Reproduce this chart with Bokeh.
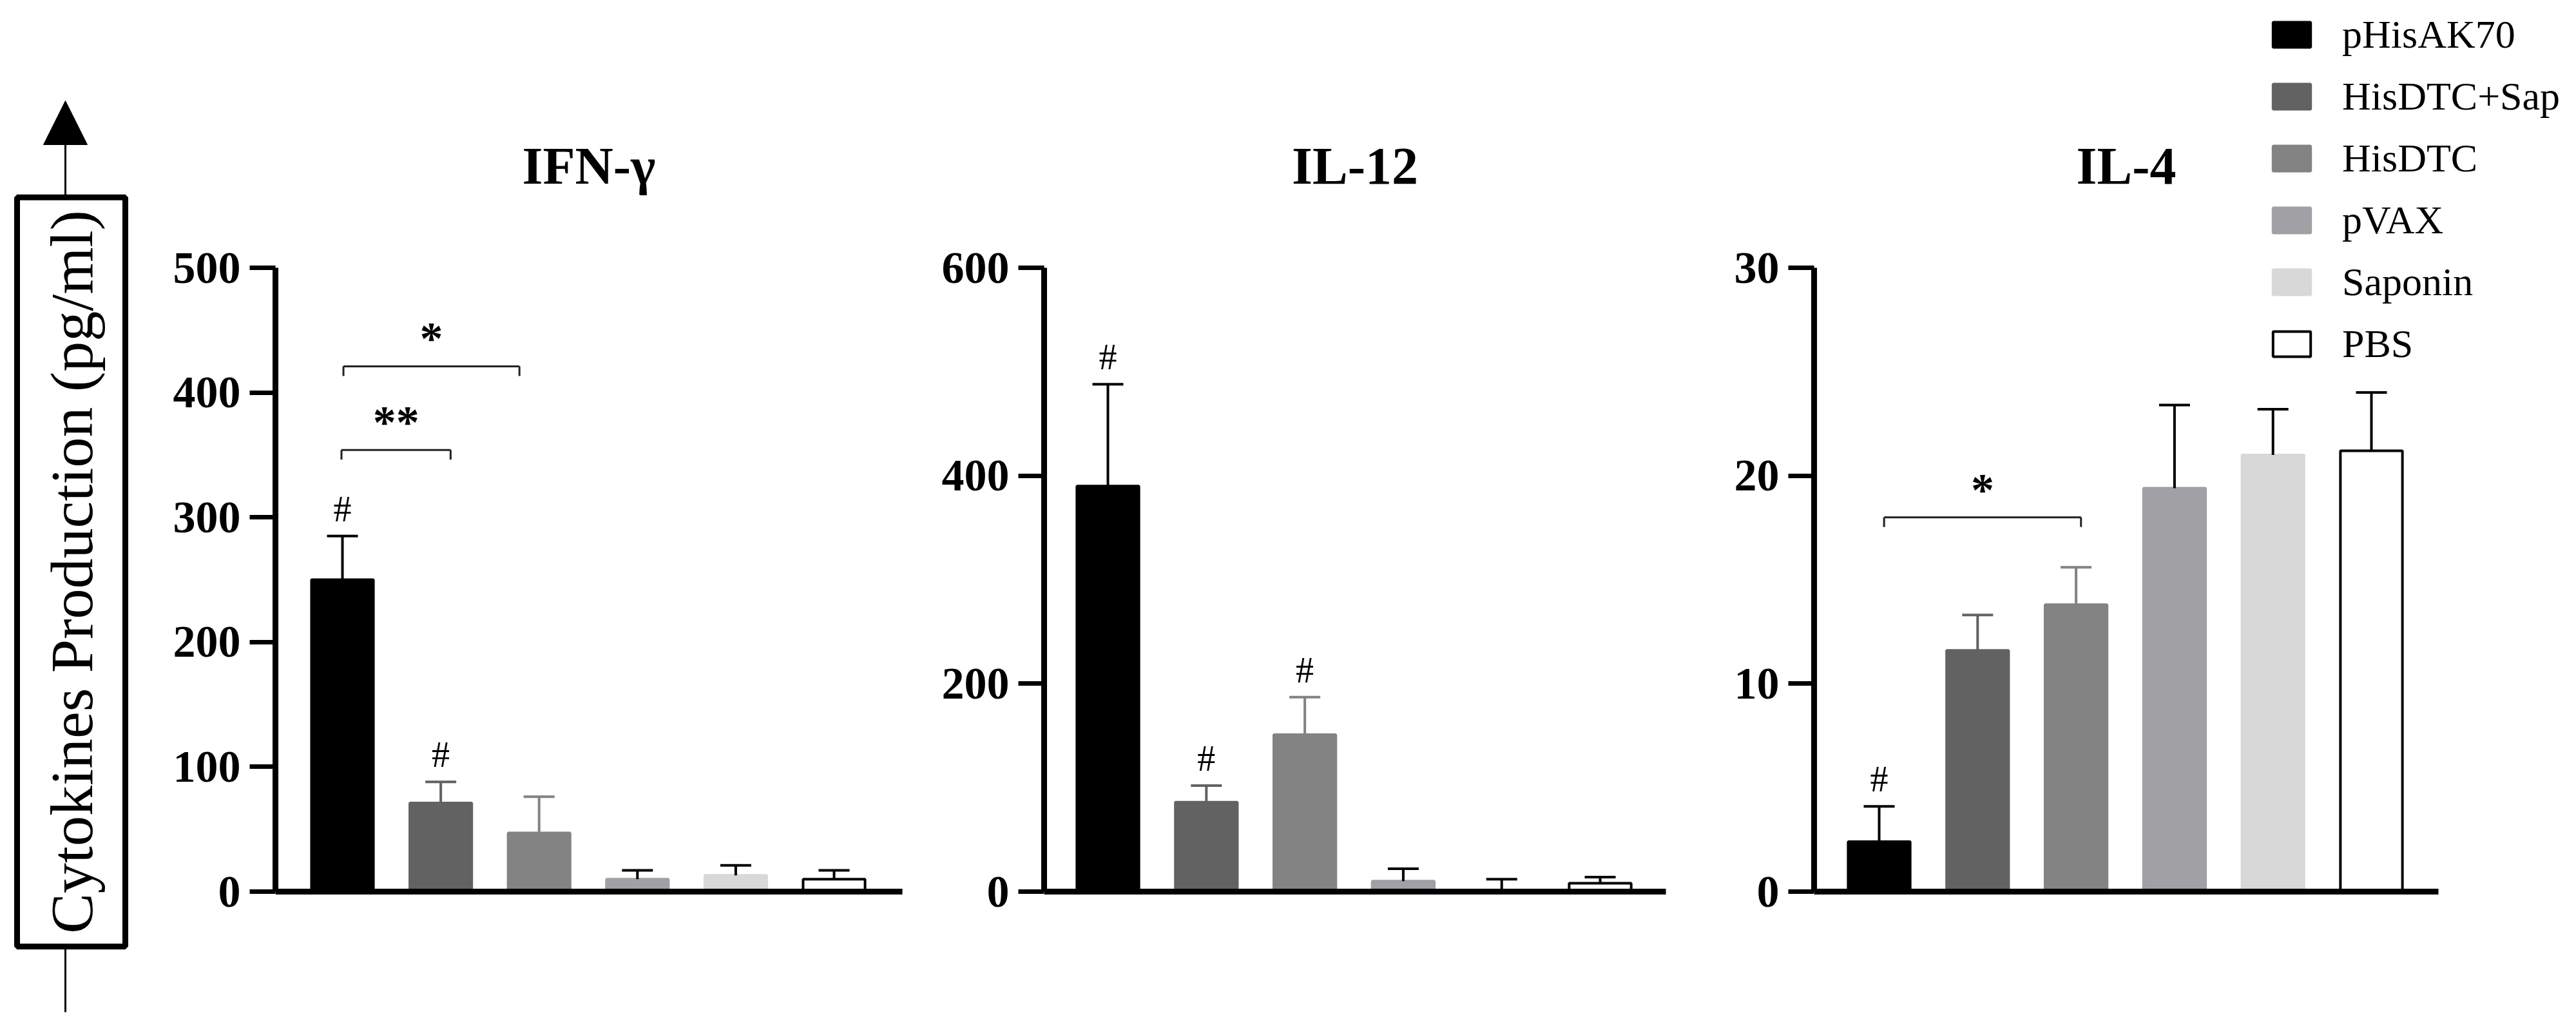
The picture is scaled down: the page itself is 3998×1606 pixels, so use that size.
from bokeh.plotting import figure
from bokeh.models import (Range1d, ColumnDataSource, FixedTicker, Legend, LegendItem,
                          Label, Arrow, NormalHead, LinearAxis)
from bokeh.layouts import row
from bokeh.embed import file_html
from bokeh.resources import INLINE
from bokeh.core.properties import value

# ---------------- data ----------------
groups = ["pHisAK70", "HisDTC+Sap", "HisDTC", "pVAX", "Saponin", "PBS"]
bar_colors = ["#000000", "#626262", "#838383", "#a0a0a5", "#d8d8d8", "#ffffff"]
bar_lines = ["#000000", "#626262", "#838383", "#a0a0a5", "#d8d8d8", "#000000"]
err_colors = ["#000000", "#626262", "#838383", "#000000", "#000000", "#000000"]

panel_titles = ["IFN-γ", "IL-12", "IL-4"]

ifn_mean = [250, 71, 47, 10, 13, 10]
ifn_err = [35, 17, 29, 7, 8, 7]
ifn_hash = ["#", "#", "", "", "", ""]

il12_mean = [390, 86, 151, 10, 1, 8]
il12_err = [98, 16, 36, 12, 11, 6]
il12_hash = ["#", "#", "#", "", "", ""]

il4_mean = [2.4, 11.6, 13.8, 19.4, 21.0, 21.2]
il4_err = [1.7, 1.7, 1.8, 4.0, 2.2, 2.8]
il4_hash = ["#", "", "", "", "", ""]

y_max = [500, 600, 30]
y_step = [100, 200, 10]

# significance brackets: (left, right, level, label)
ifn_brackets = [(0.99, 2.10, 354, "**"), (1.01, 2.80, 421, "*")]
il12_brackets = []
il4_brackets = [(1.05, 3.05, 18.0, "*")]

y_label = "Cytokines Production (pg/ml)"

# ---------------- styling / layout (pixels) ----------------
H = 1590
AXIS_TOP = 415      # pixel row of the top tick
AXIS_ZERO = 1383    # pixel row of the zero line
SERIF = "Liberation Serif"


def make_panel(title, means, errs, hashes, ymax, ystep, brackets,
               fig_left, frame_left, frame_right, bar1_px, spacing_px, axis_end_px):
    width = frame_right - fig_left
    mb_left = frame_left - fig_left
    x_start = 1 - (bar1_px - frame_left) / spacing_px
    x_end = x_start + (frame_right - frame_left) / spacing_px
    x_axis_end = 1 + (axis_end_px - bar1_px) / spacing_px
    k = (AXIS_ZERO - AXIS_TOP) / ymax
    y_start = -(H - AXIS_ZERO) / k
    y_end = ymax + AXIS_TOP / k

    p = figure(width=width, height=H, x_range=Range1d(x_start, x_end),
               y_range=Range1d(y_start, y_end), title=None,
               output_backend="svg", toolbar_location=None,
               x_axis_location=None, y_axis_location="left",
               min_border_left=mb_left, min_border_right=0,
               min_border_top=0, min_border_bottom=0)
    p.grid.visible = False
    p.outline_line_color = None
    p.background_fill_color = "white"
    p.border_fill_color = "white"

    ya = p.yaxis[0]
    ya.bounds = (0, ymax)
    ya.ticker = FixedTicker(ticks=list(range(0, ymax + 1, ystep)))
    ya.axis_line_width = 9
    ya.axis_line_color = "black"
    ya.major_tick_line_width = 7
    ya.major_tick_line_color = "black"
    ya.major_tick_out = 40
    ya.major_tick_in = 0
    ya.minor_tick_line_color = None
    ya.major_label_text_font = SERIF
    ya.major_label_text_font_style = "bold"
    ya.major_label_text_font_size = "70px"
    ya.major_label_text_color = "black"
    ya.major_label_standoff = 14

    xa = LinearAxis(fixed_location=0, bounds=(x_start, x_axis_end),
                    ticker=FixedTicker(ticks=[]), axis_line_width=9, axis_line_color="black",
                    major_tick_line_color=None, minor_tick_line_color=None,
                    major_label_text_font_size="0px")
    p.add_layout(xa, "below")

    xs = list(range(1, len(groups) + 1))
    tops = [m + e for m, e in zip(means, errs)]
    src = ColumnDataSource(dict(x=xs, top=means, upper=tops, fill=bar_colors,
                                line=bar_lines, ecol=err_colors, hash=hashes, name=groups))
    r = p.vbar(x="x", top="top", width=0.63, bottom=0, fill_color="fill",
               line_color="line", line_width=4, source=src)
    p.segment(x0="x", y0="top", x1="x", y1="upper", line_color="ecol", line_width=4, source=src)
    p.scatter(x="x", y="upper", marker="dash", size=48, line_color="ecol", line_width=4,
              source=src)
    p.text(x="x", y="upper", text="hash", text_align="center", text_baseline="alphabetic",
           text_font=value(SERIF), text_font_size="56px", text_color="black",
           y_offset=-42, source=src)

    drop = 15 / k
    for (x0, x1, lvl, lab) in brackets:
        p.segment(x0=[x0, x0, x1], y0=[lvl, lvl, lvl], x1=[x1, x0, x1],
                  y1=[lvl, lvl - drop, lvl - drop], line_color="#222222", line_width=3)
        p.text(x=[(x0 + x1) / 2], y=[lvl], text=[lab], text_align="center",
               text_baseline="alphabetic", text_font=value(SERIF), text_font_style="bold",
               text_font_size="72px", text_color="black", y_offset=-43)

    # panel title
    p.text(x=[(x_start + x_axis_end) / 2], y=[ymax], text=[title], text_align="center",
           text_baseline="alphabetic", text_font=value(SERIF), text_font_style="bold",
           text_font_size="82px", text_color="black", y_offset=-158)
    return p, r


# label figure with boxed axis caption and arrow
lab = figure(width=240, height=H, x_range=Range1d(0, 1), y_range=Range1d(0, 1),
             output_backend="svg", toolbar_location=None, title=None,
             x_axis_location=None, y_axis_location=None,
             min_border_left=0, min_border_right=0, min_border_top=0, min_border_bottom=0)
lab.grid.visible = False
lab.outline_line_color = None
lab.add_layout(Arrow(end=NormalHead(size=68, fill_color="black", line_color="black"),
                     x_start=101, y_start=20, x_end=101, y_end=H - 156,
                     start_units="screen", end_units="screen",
                     line_width=3, line_color="black"))
lab.add_layout(Label(x=110, y=H - 887, x_units="screen", y_units="screen", text=y_label,
                     angle=90, angle_units="deg", text_align="center", text_baseline="middle",
                     text_font=SERIF, text_font_size="94px", text_color="black",
                     background_fill_color="white", border_line_color="black",
                     border_line_width=9, padding=(20, 32)))

p1, r1 = make_panel(panel_titles[0], ifn_mean, ifn_err, ifn_hash, y_max[0], y_step[0],
                    ifn_brackets, 240, 427, 1420, 531, 152.6, 1400)
p2, r2 = make_panel(panel_titles[1], il12_mean, il12_err, il12_hash, y_max[1], y_step[1],
                    il12_brackets, 1420, 1620, 2615, 1719, 152.8, 2585)
p3, r3 = make_panel(panel_titles[2], il4_mean, il4_err, il4_hash, y_max[2], y_step[2],
                    il4_brackets, 2615, 2815, 3982, 2916, 152.8, 3784)

legend = Legend(items=[LegendItem(label=value(g), renderers=[r3], index=i)
                       for i, g in enumerate(groups)],
                location=(705, 1021), orientation="vertical",
                glyph_width=73, glyph_height=49, label_standoff=42, spacing=25,
                padding=0, margin=0, border_line_color=None, background_fill_alpha=0,
                label_text_font=SERIF, label_text_font_size="62px",
                label_text_color="black", label_height=49)
p3.add_layout(legend)

layout = row(lab, p1, p2, p3, spacing=0)
open("out.html", "w").write(file_html(layout, INLINE))
